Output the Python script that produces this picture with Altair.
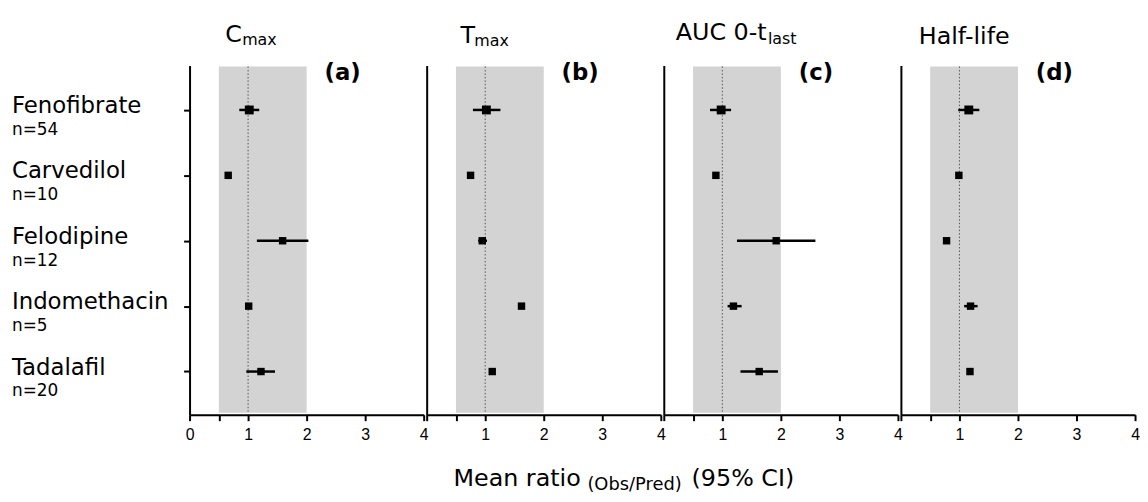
import altair as alt
import pandas as pd

# ---------------- data ----------------
drugs = ["Fenofibrate", "Carvedilol", "Felodipine", "Indomethacin", "Tadalafil"]
n_labels = ["n=54", "n=10", "n=12", "n=5", "n=20"]

cmax_mean = [1.02, 0.66, 1.59, 1.01, 1.22]
cmax_lo = [0.85, 0.66, 1.15, 0.97, 0.97]
cmax_hi = [1.19, 0.66, 2.03, 1.05, 1.46]

tmax_mean = [1.02, 0.75, 0.95, 1.62, 1.12]
tmax_lo = [0.79, 0.75, 0.88, 1.62, 1.12]
tmax_hi = [1.26, 0.75, 1.03, 1.62, 1.12]

auc_mean = [0.98, 0.89, 1.92, 1.19, 1.63]
auc_lo = [0.79, 0.89, 1.25, 1.09, 1.31]
auc_hi = [1.15, 0.89, 2.59, 1.33, 1.95]

hl_mean = [1.16, 0.99, 0.78, 1.19, 1.18]
hl_lo = [0.98, 0.99, 0.78, 1.08, 1.18]
hl_hi = [1.34, 0.99, 0.78, 1.31, 1.18]

band_range = [0.5, 2.0]
ref_line = [1.0]
x_ticks = [0, 0.5, 1, 2, 3, 4]

# ---------------- layout / style ----------------
W, H = 236, 352
YDOM = [-0.68, 4.66]
FONT = "DejaVu Sans"
NARROW = "'Liberation Sans Narrow', 'Liberation Sans', sans-serif"


def txt(text, x, y, size, weight="normal"):
    return alt.Chart(pd.DataFrame({"t": [text]})).mark_text(
        font=FONT, fontSize=size, fontWeight=weight, align="left",
        baseline="alphabetic", color="black"
    ).encode(x=alt.value(x), y=alt.value(y), text="t:N")


def panel(mean, lo, hi, letter, title_parts, first):
    df = pd.DataFrame({"drug": drugs, "n": n_labels, "row": list(range(len(drugs))),
                       "mean": mean, "lo": lo, "hi": hi})
    base = alt.Chart(df)
    xscale = alt.Scale(domain=[0, 4], nice=False, zero=False)
    yscale = alt.Scale(domain=YDOM, reverse=True, nice=False, zero=False)
    if first:
        lexpr = "datum.value == 0.5 ? '' : '' + datum.value"
    else:
        lexpr = "(datum.value == 0.5 || datum.value == 0) ? '' : '' + datum.value"
    xaxis = alt.Axis(values=x_ticks, labelExpr=lexpr, title=None, grid=False,
                     tickSize=6, labelPadding=6, labelFont=NARROW, labelFontSize=16,
                     labelFlush=False, labelOverlap=False, domainWidth=2, tickWidth=2,
                     domainColor="black", tickColor="black", labelColor="black")
    yaxis = alt.Axis(values=[0, 1, 2, 3, 4], labels=False, ticks=first, title=None,
                     grid=False, tickSize=6, domainWidth=2, tickWidth=2,
                     domainColor="black", tickColor="black")

    band = alt.Chart(pd.DataFrame({"b0": [band_range[0]], "b1": [band_range[1]]})).mark_rect(
        color="#d3d3d3"
    ).encode(
        x=alt.X("b0:Q", scale=xscale, axis=xaxis),
        x2="b1:Q",
        y=alt.value(1), y2=alt.value(H - 2),
    )
    ref = alt.Chart(pd.DataFrame({"r": ref_line})).mark_rule(
        color="#555555", strokeWidth=1, strokeDash=[1.5, 2]
    ).encode(x="r:Q", y=alt.value(1), y2=alt.value(H - 2))

    whisk = base.mark_rule(color="black", strokeWidth=2.5).encode(
        x="lo:Q", x2="hi:Q", y=alt.Y("row:Q", scale=yscale, axis=yaxis)
    )
    pts = base.mark_square(color="black", filled=True, opacity=1).encode(
        x="mean:Q", y="row:Q",
        size=alt.condition(alt.datum.drug == "Fenofibrate", alt.value(80), alt.value(56)),
    )
    layers = [band, ref, whisk, pts, txt(letter, 136, 15, 23, "bold")]
    for (t, x, y, s) in title_parts:
        layers.append(txt(t, x, y, s))
    if first:
        names = base.mark_text(font=FONT, fontSize=23, align="left", baseline="alphabetic",
                               dy=3, color="black").encode(
            x=alt.value(-179), y="row:Q", text="drug:N")
        ns = base.mark_text(font=FONT, fontSize=17, align="left", baseline="alphabetic",
                            dy=25, color="black").encode(
            x=alt.value(-179), y="row:Q", text="n:N")
        layers += [names, ns,
                   txt("Mean ratio", 266, 424, 24),
                   txt("(Obs/Pred)", 401, 428, 18),
                   txt("(95% CI)", 506, 424, 24)]
    return alt.layer(*layers).properties(width=W, height=H)


pa = panel(cmax_mean, cmax_lo, cmax_hi, "(a)",
           [("C", 36, -24, 24), ("max", 53, -21, 16)], True)
pb = panel(tmax_mean, tmax_lo, tmax_hi, "(b)",
           [("T", 34, -23, 24), ("max", 48, -20, 16)], False)
pc = panel(auc_mean, auc_lo, auc_hi, "(c)",
           [("AUC 0-t", 12, -26, 24), ("last", 105, -22, 16)], False)
pd_ = panel(hl_mean, hl_lo, hl_hi, "(d)",
            [("Half-life", 18, -22, 24)], False)

chart = alt.hconcat(pa, pb, pc, pd_, spacing=3, bounds="flush").configure_view(
    stroke=None
).properties(padding={"left": 4, "top": 11, "right": 0, "bottom": 0})

chart.save("out.html", embed_options={"renderer": "svg", "actions": False})
